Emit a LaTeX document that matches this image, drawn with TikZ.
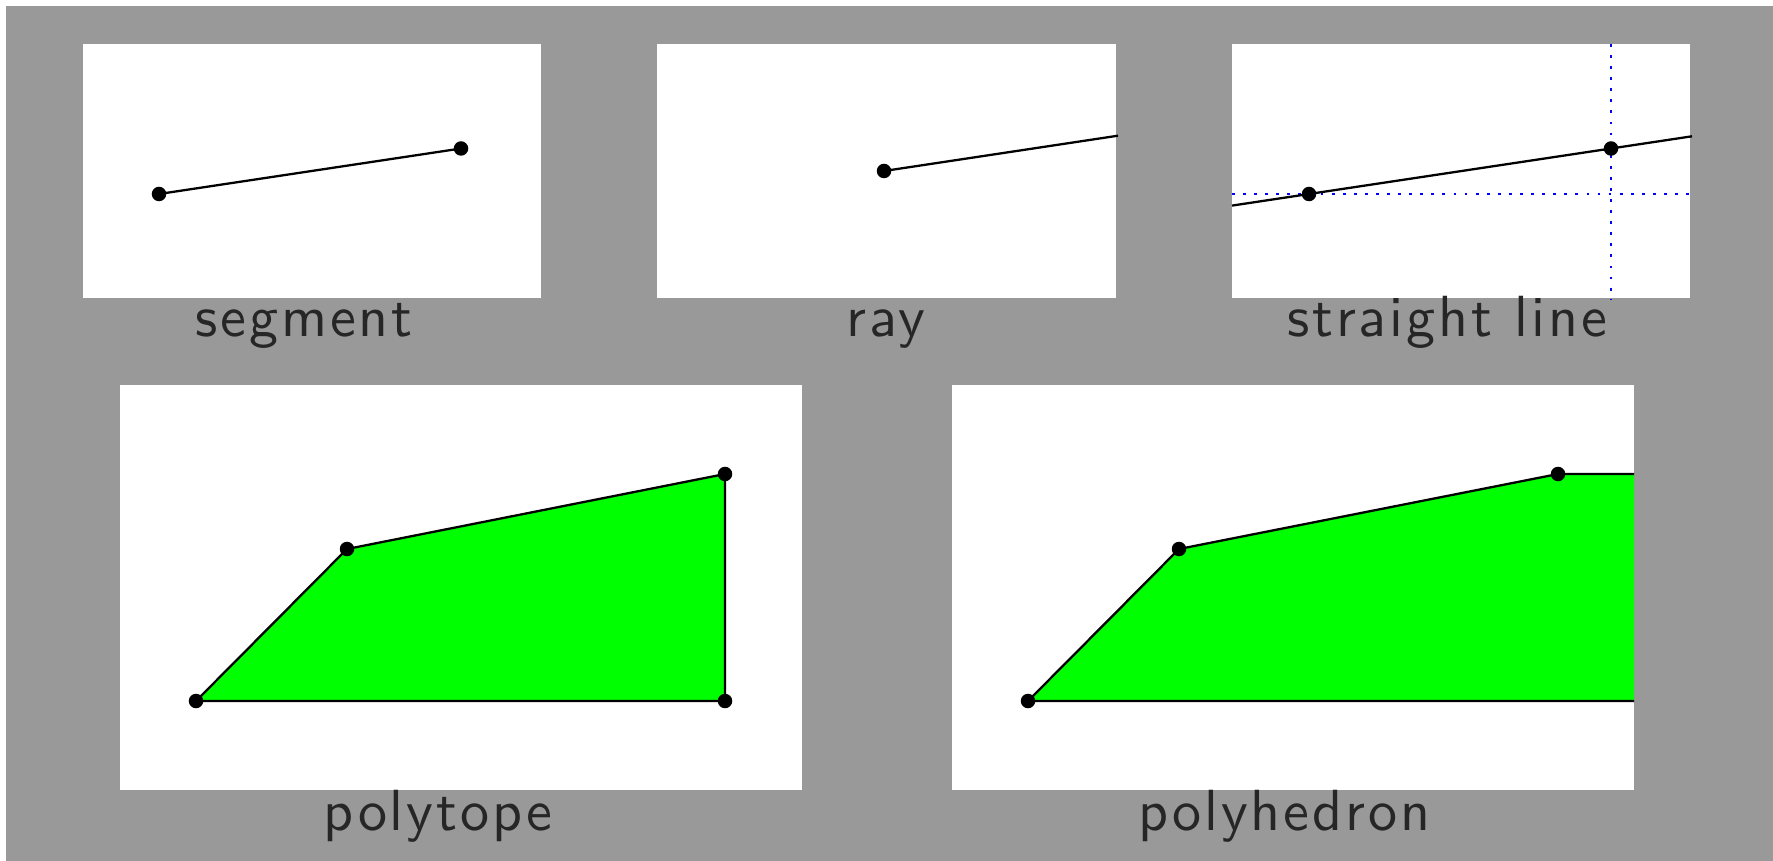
\documentclass[tikz,border=0pt]{standalone}
\usepackage{fontspec}
\usepackage{tikz}
\usetikzlibrary{positioning}
\newfontfamily\capfont{lmsans10-regular.otf}[LetterSpace=5]

\begin{document}
\begin{tikzpicture}[x=0.01cm,y=-0.01cm,
  panel/.style={fill=white},
  edge/.style={line width=0.65pt},
  vertex/.style={circle,fill=black,inner sep=0pt,minimum size=0.145cm},
  guide/.style={blue,line width=0.8pt,dash pattern=on 0.8pt off 2.35pt},
  region/.style={fill=green},
  caption/.style={anchor=base,text=black!85,
    font=\capfont\fontsize{16.5}{20}\selectfont}]
\useasboundingbox (0,0) rectangle (1773,861);
\fill[black!40] (6,6) rectangle (1773,861);

% top row
\fill[panel] (83,44) rectangle (541,298.5);
\fill[panel] (657,44) rectangle (1116,298.5);
\fill[panel] (1232,44) rectangle (1690,298.5);

\node[vertex] (s1) at (159,194) {};
\node[vertex] (s2) at (461,148.5) {};
\draw[edge] (s1.center) -- (s2.center);

\node[vertex] (r0) at (884,171) {};
\coordinate (rEnd) at (1118,135.7);
\draw[edge] (r0.center) -- (rEnd);

\coordinate (hL) at (1232,194);
\coordinate (hR) at (1692,194);
\coordinate (vT) at (1611,44);
\coordinate (vB) at (1611,299);
\draw[guide] (hL) -- (hR);
\draw[guide] (vT) -- (vB);
\coordinate (lL) at (1232,205.6);
\coordinate (lR) at (1692,136.3);
\draw[edge] (lL) -- (lR);
\node[vertex] (l1) at (1309,194) {};
\node[vertex] (l2) at (1611,148.5) {};

\node[caption] (segLabel) at (304,337) {segment};
\node[caption] (rayLabel) at (886,337) {ray};
\node[caption] (lineLabel) at (1447,337) {straight line};

% bottom row
\fill[panel] (120,385) rectangle (802,790);
\fill[panel] (952,385) rectangle (1634,790);

\coordinate (p1) at (196,701);
\coordinate (p2) at (347,549);
\coordinate (p3) at (725,474);
\coordinate (p4) at (725,701);
\draw[edge,region] (p1) -- (p2) -- (p3) -- (p4) -- cycle;
\foreach \p in {p1,p2,p3,p4}
  \node[vertex] at (\p) {};

\coordinate (q1) at (1028,701);
\coordinate (q2) at (1179,549);
\coordinate (q3) at (1558,474);
\coordinate (qTop) at (1634,474);
\coordinate (qBot) at (1634,701);
\fill[region] (q1) -- (q2) -- (q3) -- (qTop) -- (qBot) -- cycle;
\draw[edge] (qBot) -- (q1) -- (q2) -- (q3) -- (qTop);
\foreach \q in {q1,q2,q3}
  \node[vertex] at (\q) {};

\node[caption] (polytopeLabel) at (438,830) {polytope};
\node[caption] (polyhedronLabel) at (1284,830) {polyhedron};
\end{tikzpicture}
\end{document}
